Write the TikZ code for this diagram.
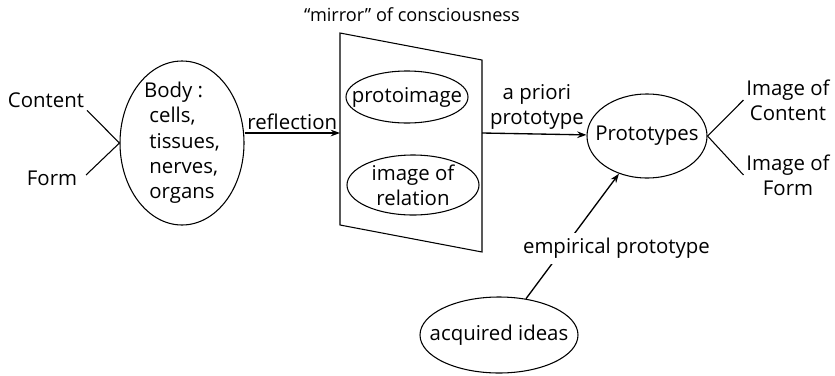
\documentclass[tikz,border=0pt]{standalone}
\usepackage{fontspec}
\setmainfont{Open Sans}
\usetikzlibrary{shapes.geometric,arrows.meta,positioning,calc}

\tikzset{
  oval/.style={draw, ellipse, inner sep=0pt, line width=0.8pt},
  lbl/.style={inner sep=2pt, align=center},
  arr/.style={-{Stealth[length=7pt,width=5pt]}, line width=1pt}
}

\begin{document}
\begin{tikzpicture}[x=0.75pt, y=-0.75pt, font=\fontsize{15.3}{19}\selectfont]
\useasboundingbox (0,0) rectangle (835,375);
\node[lbl] (content) at (46,100) {Content};
\node[lbl] (form) at (52,178) {Form};
\node[oval, minimum width=93pt, minimum height=123pt,
  label={[align=left]center:Body :\\\ cells,\\\ tissues,\\\ nerves,\\\ organs}] (body) at (182,143) {};
\draw[line width=0.8pt] (content.south east) -- (body.west) -- ([shift={(6,-3)}]form.east);

\coordinate (m1) at (340,33);
\coordinate (m2) at (482,60);
\coordinate (m3) at (482,252);
\coordinate (m4) at (340,225);
\draw[line width=0.8pt] (m1) -- (m2) -- (m3) -- (m4) -- cycle;
\node[lbl, font=\fontsize{13.6}{17}\selectfont] (mirror) at (412,15) {“mirror” of consciousness};
\node[oval, minimum width=91.5pt, minimum height=39pt, label=center:protoimage] (proto) at (407,97) {};
\node[oval, minimum width=99pt, minimum height=45pt,
  label={[align=center]center:image of\\relation}] (rel) at (413,185) {};

\coordinate (mirL) at (340,133);
\coordinate (mirR) at (482,133);
\draw[arr] (body.east |- mirL) -- node[lbl, above] {reflection} (mirL);

\node[oval, minimum width=90pt, minimum height=63pt, label=center:Prototypes] (types) at (647,136) {};
\draw[arr] (mirR) -- node[lbl, above, inner sep=3pt, xshift=2pt] {a priori\\prototype} (types);

\node[lbl] (imgc) at (788,100) {Image of\\Content};
\node[lbl] (imgf) at (788,175) {Image of\\Form};
\draw[line width=0.8pt] (imgc.west) -- (types.east) -- (imgf.west);

\node[oval, minimum width=118.5pt, minimum height=57pt, label=center:acquired ideas] (acq) at (499,335) {};
\draw[arr] (acq) -- node[lbl, fill=white, xshift=33pt, yshift=-9pt, inner sep=4pt] {empirical prototype} (types);
\end{tikzpicture}
\end{document}
